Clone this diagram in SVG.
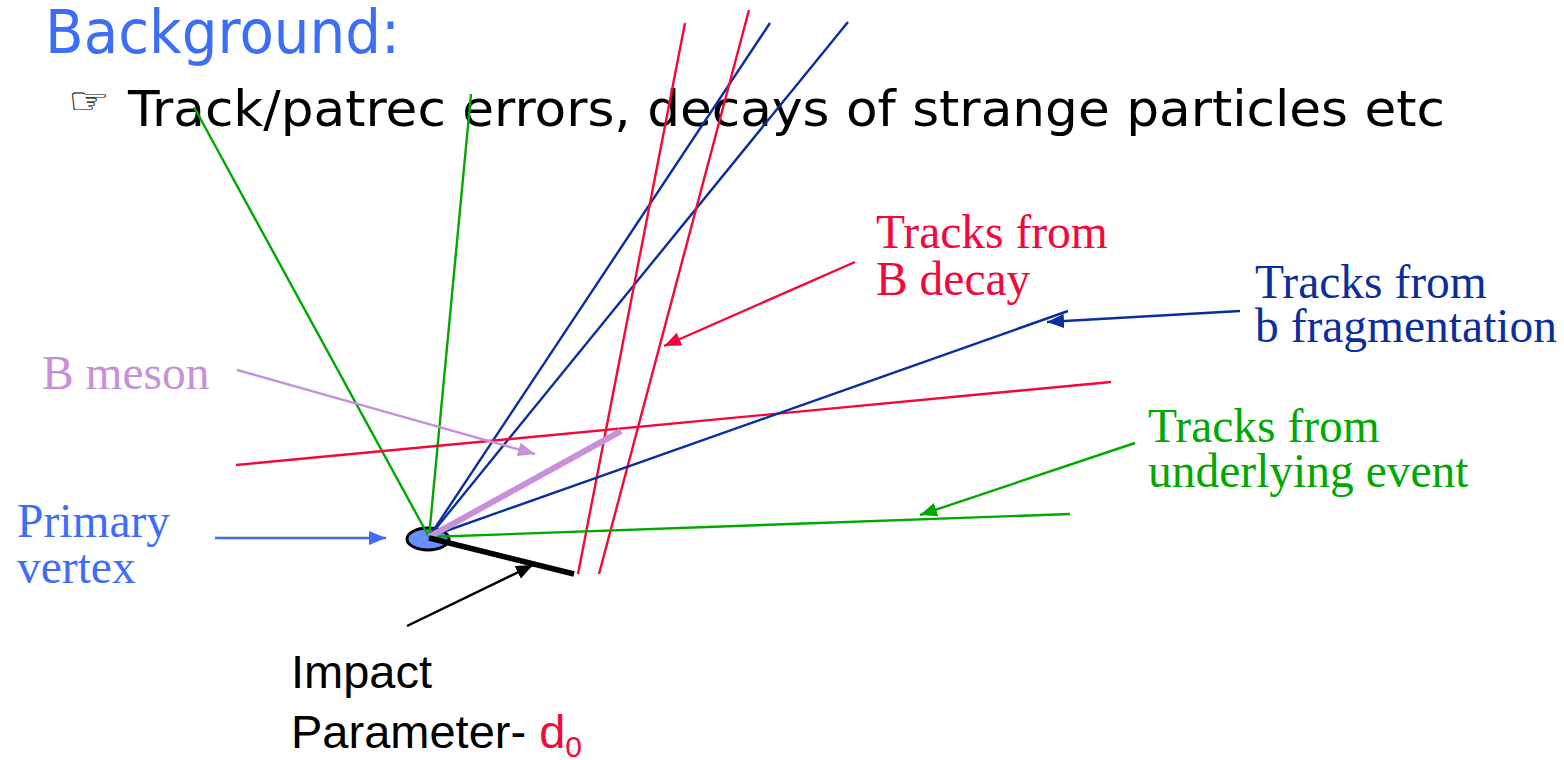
<svg xmlns="http://www.w3.org/2000/svg" width="1564" height="760" viewBox="0 0 1564 760">
<style>
.trk{fill:none;stroke-width:2.4;stroke-linecap:butt}
.red{stroke:#f5073a}
.blu{stroke:#0a2e9e}
.grn{stroke:#00a800}
.lil{stroke:#c890d8}
.blk{stroke:#000}
.pv{stroke:#3d6ef7}
.serif{font-family:"Liberation Serif","Times New Roman",serif;font-size:47.5px}
.sans{font-family:"Liberation Sans",Arial,sans-serif;font-size:47px}
.comic{font-family:"Comic Sans MS","DejaVu Sans","Open Sans",sans-serif}
</style>
<defs>
<marker id="aRed" markerUnits="userSpaceOnUse" markerWidth="18" markerHeight="14" refX="17" refY="7" orient="auto"><path d="M0,0 L17,7 L0,14 z" fill="#f5073a"/></marker>
<marker id="aBlu" markerUnits="userSpaceOnUse" markerWidth="18" markerHeight="14" refX="17" refY="7" orient="auto"><path d="M0,0 L17,7 L0,14 z" fill="#0a2e9e"/></marker>
<marker id="aGrn" markerUnits="userSpaceOnUse" markerWidth="18" markerHeight="14" refX="17" refY="7" orient="auto"><path d="M0,0 L17,7 L0,14 z" fill="#00a800"/></marker>
<marker id="aLil" markerUnits="userSpaceOnUse" markerWidth="18" markerHeight="14" refX="17" refY="7" orient="auto"><path d="M0,0 L17,7 L0,14 z" fill="#c890d8"/></marker>
<marker id="aPv" markerUnits="userSpaceOnUse" markerWidth="18" markerHeight="14" refX="17" refY="7" orient="auto"><path d="M0,0 L17,7 L0,14 z" fill="#3d6ef7"/></marker>
<marker id="aBlk" markerUnits="userSpaceOnUse" markerWidth="18" markerHeight="14" refX="17" refY="7" orient="auto"><path d="M0,0 L17,7 L0,14 z" fill="#000"/></marker>
</defs>
<rect width="1564" height="760" fill="#fff"/>

<g id="title">
<text x="45" y="53" class="comic" font-size="60" fill="#3d6ef7" textLength="355" lengthAdjust="spacingAndGlyphs">Background:</text>
<text x="68" y="114" font-family="DejaVu Sans,sans-serif" font-size="38" fill="#000" textLength="42" lengthAdjust="spacingAndGlyphs">☞</text>
<text x="128" y="126" class="comic" font-size="50" fill="#000" textLength="1317" lengthAdjust="spacingAndGlyphs">Track/patrec errors, decays of strange particles etc</text>
</g>

<g id="vertex">
<ellipse cx="428" cy="539" rx="21" ry="11" fill="#6690ff" stroke="#000" stroke-width="3"/>
</g>

<g id="connectors">
<line class="trk grn" x1="429" y1="537" x2="194" y2="107"/>
<line class="trk grn" x1="429" y1="537" x2="471" y2="94"/>
<line class="trk blu" x1="429" y1="537" x2="770" y2="23"/>
<line class="trk blu" x1="429" y1="537" x2="848" y2="22"/>
<line class="trk red" x1="578" y1="574" x2="685" y2="23"/>
<line class="trk red" x1="599" y1="574" x2="749" y2="10"/>
<line class="trk red" x1="236" y1="465" x2="1111" y2="382"/>
<line class="trk blu" x1="429" y1="537" x2="1068" y2="311"/>
<line class="trk grn" x1="429" y1="537" x2="1070" y2="514"/>
<line class="lil" x1="429" y1="537" x2="621" y2="431" stroke-width="6"/>
<line class="blk" x1="429" y1="538" x2="574" y2="574" stroke-width="5.5"/>
<line class="trk pv" x1="215" y1="538" x2="386" y2="538" marker-end="url(#aPv)"/>
<line class="trk lil" x1="237" y1="370" x2="535" y2="454" marker-end="url(#aLil)"/>
<line class="trk red" x1="855" y1="262" x2="664" y2="346" marker-end="url(#aRed)"/>
<line class="trk blu" x1="1240" y1="311" x2="1047" y2="322" marker-end="url(#aBlu)"/>
<line class="trk grn" x1="1135" y1="443" x2="920" y2="515" marker-end="url(#aGrn)"/>
<line class="trk blk" x1="407" y1="626" x2="533" y2="565" marker-end="url(#aBlk)"/>
</g>

<g id="lbl-bdecay" class="serif" fill="#f5073a">
<text x="876" y="248">Tracks from</text>
<text x="876" y="295">B decay</text>
</g>
<g id="lbl-bfrag" class="serif" fill="#0a2e9e">
<text x="1255" y="298">Tracks from</text>
<text x="1255" y="342">b fragmentation</text>
</g>
<g id="lbl-bmeson" class="serif" fill="#c890d8">
<text x="42" y="389">B meson</text>
</g>
<g id="lbl-ue" class="serif" fill="#00a800">
<text x="1148" y="442">Tracks from</text>
<text x="1148" y="487">underlying event</text>
</g>
<g id="lbl-pv" class="serif" fill="#3d6ef7">
<text x="17" y="537">Primary</text>
<text x="17" y="583">vertex</text>
</g>
<g id="lbl-ip" class="sans" fill="#000">
<text x="291" y="688">Impact</text>
<text x="291" y="748">Parameter- <tspan fill="#f5073a">d</tspan><tspan fill="#f5073a" font-size="30" dy="9">0</tspan></text>
</g>
</svg>
